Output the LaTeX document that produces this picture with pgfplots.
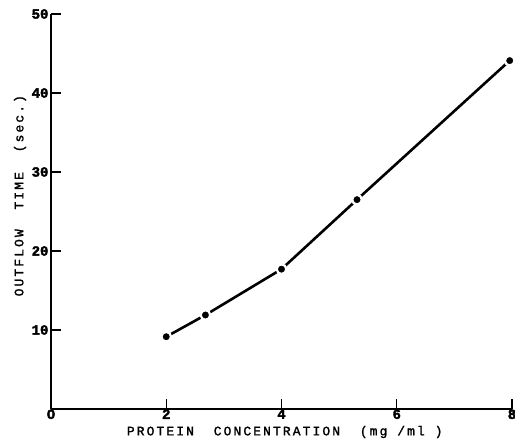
\documentclass[border=0pt]{standalone}
\usepackage{fontspec}
\setmainfont{Liberation Mono}
\newfontfamily\labfont[LetterSpace=16,FakeBold=1.5]{Liberation Mono}
\newfontfamily\tickfont[FakeBold=2.5]{Liberation Mono Bold}
\usepackage{pgfplots}
\pgfplotsset{compat=1.18}
\begin{document}
\begin{tikzpicture}
\begin{axis}[
  name=ax,
  scale only axis,
  width=461pt, height=395pt,
  xmin=0, xmax=8, ymin=0, ymax=50,
  axis x line*=bottom, axis y line*=left,
  axis line style={line width=1.6pt},
  xtick={0,2,4,6,8}, ytick={10,20,30,40,50},
  xticklabels={O,2,4,6,8},
  tick align=inside,
  major tick length=10pt,
  tick style={line width=1.1pt, black},
  /pgf/number format/assume math mode=true,
  ticklabel style={font=\tickfont\fontsize{14}{14}\selectfont},
  xticklabel style={yshift=3pt},
  yticklabel style={xshift=1pt},
  xlabel={PROTEIN\ \ CONCENTRATION\ \ (mg /ml )},
  ylabel={OUTFLOW\ \ TIME\ \ (sec.)},
  label style={font=\labfont\fontsize{13}{13}\selectfont},
  xlabel style={at={(rel axis cs:0.507,0)}, anchor=center, yshift=-23pt},
  ylabel style={at={(rel axis cs:0,0.54)}, anchor=center, yshift=31pt},
  clip=false,
]
\addplot[black, line width=2.6pt, mark=*, mark size=4.8pt,
  mark options={fill=black, draw=white, line width=2.2pt}]
  coordinates {(2.0,9.15) (2.68,11.9) (4.0,17.7) (5.31,26.5) (7.96,44.1)};
\end{axis}
\pgfresetboundingbox
\path ([xshift=-51pt,yshift=-31pt]ax.south west) rectangle ([xshift=3pt,yshift=14pt]ax.north east);
\end{tikzpicture}
\end{document}
